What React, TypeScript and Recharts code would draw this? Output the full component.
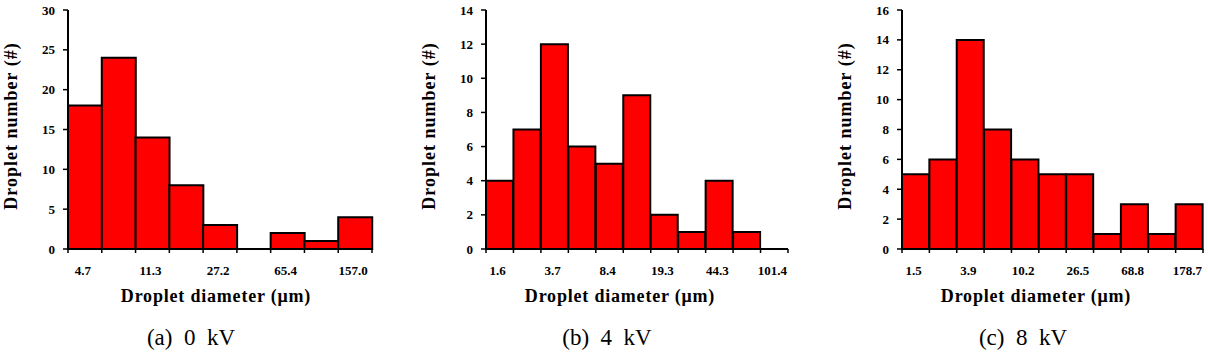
import { BarChart, Bar, XAxis, YAxis } from "recharts";

// bin labels (every other bin is labelled) and droplet counts per bin
const binsA = ["4.7", "", "11.3", "", "27.2", "", "65.4", "", "157.0"];
const countsA = [18, 24, 14, 8, 3, 0, 2, 1, 4];
const ticksA = [0, 5, 10, 15, 20, 25, 30];

const binsB = ["1.6", "", "3.7", "", "8.4", "", "19.3", "", "44.3", "", "101.4"];
const countsB = [4, 7, 12, 6, 5, 9, 2, 1, 4, 1, 0];
const ticksB = [0, 2, 4, 6, 8, 10, 12, 14];

const binsC = ["1.5", "", "3.9", "", "10.2", "", "26.5", "", "68.8", "", "178.7"];
const countsC = [5, 6, 14, 8, 6, 5, 5, 1, 3, 1, 3];
const ticksC = [0, 2, 4, 6, 8, 10, 12, 14, 16];

const captions = ["(a)  0  kV", "(b)  4  kV", "(c)  8  kV"];

const SERIF = "'Liberation Serif', 'Times New Roman', serif";
const CHART_H = 310;
const PLOT_TOP = 10;
const PLOT_BOTTOM = 249;

type Panel = {
  bins: string[];
  counts: number[];
  ticks: number[];
  caption: string;
  left: number;
  plotLeft: number;
  plotRight: number;
  yTitleX: number;
  xTitleX: number;
  captionX: number;
};

const panels: Panel[] = [
  { bins: binsA, counts: countsA, ticks: ticksA, caption: captions[0], left: 0, plotLeft: 68, plotRight: 372, yTitleX: 11, xTitleX: 216, captionX: 191 },
  { bins: binsB, counts: countsB, ticks: ticksB, caption: captions[1], left: 400, plotLeft: 486, plotRight: 788, yTitleX: 429, xTitleX: 620, captionX: 607 },
  { bins: binsC, counts: countsC, ticks: ticksC, caption: captions[2], left: 815, plotLeft: 902, plotRight: 1203, yTitleX: 845, xTitleX: 1036, captionX: 1023 },
];

function BinTick(props: any) {
  const { x, y, payload, labels, half } = props;
  const i = payload.value as number;
  const last = i === labels.length - 1;
  return (
    <g>
      <line x1={x - half} x2={x - half} y1={y} y2={y + 4} stroke="#000" strokeWidth={1.5} />
      {last && <line x1={x + half} x2={x + half} y1={y} y2={y + 4} stroke="#000" strokeWidth={1.5} />}
      {labels[i] && (
        <text x={x - 2} y={y + 26} textAnchor="middle" fontFamily={SERIF} fontWeight="bold" fontSize={13} fill="#000">
          {labels[i]}
        </text>
      )}
    </g>
  );
}

function YTitle({ tx, ty }: { tx: number; ty: number }) {
  return (
    <text
      transform={`translate(${tx},${ty}) rotate(-90)`}
      textAnchor="middle"
      dominantBaseline="central"
      fontFamily={SERIF}
      fontWeight="bold"
      fontSize={18}
      letterSpacing={1}
      fill="#000"
    >
      Droplet number (#)
    </text>
  );
}

function XTitle({ tx, ty }: { tx: number; ty: number }) {
  return (
    <text x={tx} y={ty} textAnchor="middle" fontFamily={SERIF} fontWeight="bold" fontSize={18} letterSpacing={0.8} fill="#000">
      Droplet diameter (μm)
    </text>
  );
}

function Histogram({ p }: { p: Panel }) {
  const data = p.counts.map((count, bin) => ({ bin, count }));
  const width = p.plotRight - p.left + 5;
  const half = (p.plotRight - p.plotLeft) / p.counts.length / 2;
  const max = p.ticks[p.ticks.length - 1];
  const tickStyle = { fontFamily: SERIF, fontWeight: "bold", fontSize: 13, fill: "#000" };

  return (
    <div style={{ position: "absolute", left: p.left, top: 0 }}>
      <BarChart
        width={width}
        height={CHART_H}
        data={data}
        margin={{ top: PLOT_TOP, right: 5, bottom: 0, left: 0 }}
        barCategoryGap={0}
        barGap={0}
      >
        <XAxis
          dataKey="bin"
          type="category"
          height={CHART_H - PLOT_BOTTOM}
          interval={0}
          tickSize={0}
          tickMargin={0}
          tickLine={false}
          axisLine={{ stroke: "#000", strokeWidth: 2 }}
          tick={<BinTick labels={p.bins} half={half} />}
          label={<XTitle tx={p.xTitleX - p.left} ty={302} />}
        />
        <XAxis xAxisId="top" dataKey="bin" orientation="top" height={0} tick={false} tickLine={false} axisLine={{ stroke: "#000", strokeWidth: 1 }} />
        <YAxis
          type="number"
          domain={[0, max]}
          ticks={p.ticks}
          interval={0}
          width={p.plotLeft - p.left}
          tickSize={5}
          tickMargin={8}
          tick={tickStyle}
          tickLine={{ stroke: "#000", strokeWidth: 1.5 }}
          axisLine={{ stroke: "#000", strokeWidth: 2 }}
          label={<YTitle tx={p.yTitleX - p.left} ty={126} />}
        />
        <YAxis yAxisId="right" orientation="right" width={0} tick={false} tickLine={false} axisLine={{ stroke: "#000", strokeWidth: 1 }} />
        <Bar dataKey="count" fill="#FF0000" stroke="#000" strokeWidth={2} isAnimationActive={false} />
      </BarChart>
      <div
        style={{
          position: "absolute",
          left: p.captionX - p.left - 100,
          top: 324,
          width: 200,
          textAlign: "center",
          fontFamily: SERIF,
          fontSize: 23,
          whiteSpace: "pre",
          color: "#000",
          lineHeight: "28px",
        }}
      >
        {p.caption}
      </div>
    </div>
  );
}

export default function App() {
  return (
    <div style={{ position: "absolute", left: 0, top: 0, width: 1208, height: 357, background: "#fff" }}>
      {panels.map((p) => (
        <Histogram key={p.caption} p={p} />
      ))}
    </div>
  );
}
